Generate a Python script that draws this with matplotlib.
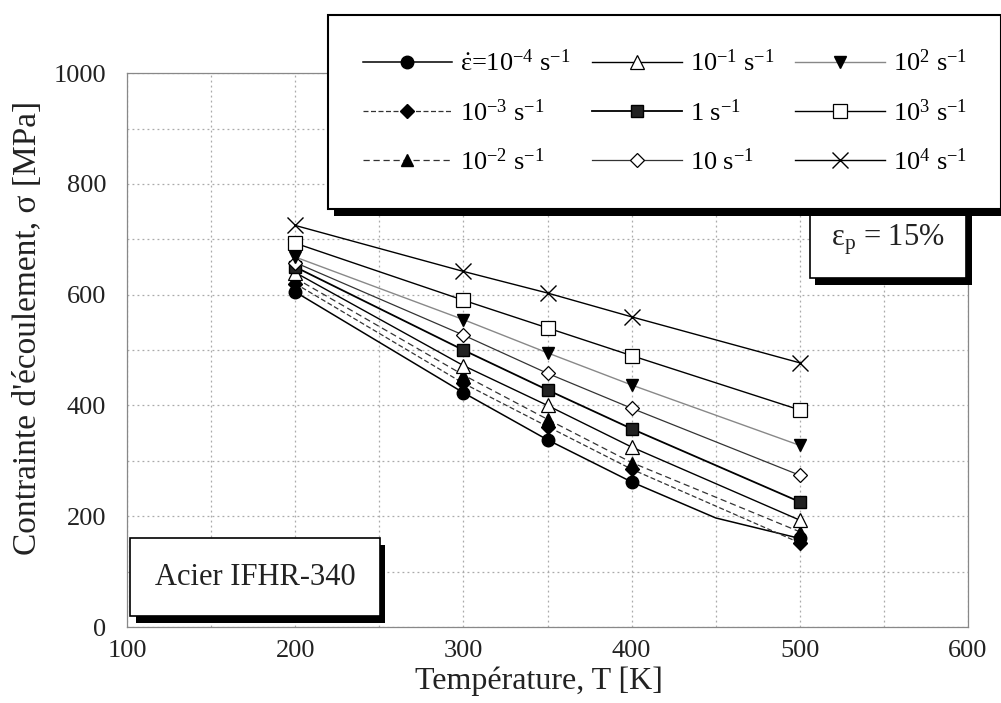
import matplotlib
matplotlib.use("Agg")
import matplotlib.pyplot as plt
from matplotlib import patheffects as pe
from matplotlib.ticker import MultipleLocator

plt.rcParams['font.family'] = ['Liberation Serif', 'DejaVu Serif']
plt.rcParams['mathtext.fontset'] = 'custom'
plt.rcParams['mathtext.rm'] = 'Liberation Serif'
plt.rcParams['mathtext.it'] = 'Liberation Serif:italic'
plt.rcParams['mathtext.bf'] = 'Liberation Serif:bold'

# Temperatures [K]
T = [200, 300, 350, 400, 500]
T_slow = [200, 300, 350, 400, 450, 500]   # 1e-4 curve has an extra bend near 450 K

# Flow stress [MPa] for each strain rate
s_1em4 = [605, 423, 338, 262, 197, 160]
s_1em3 = [620, 440, 362, 285, 152]
s_1em2 = [630, 455, 375, 297, 172]
s_1em1 = [640, 472, 400, 325, 193]
s_1 = [650, 500, 428, 358, 226]
s_10 = [658, 527, 458, 395, 274]
s_1e2 = [668, 555, 495, 437, 328]
s_1e3 = [693, 590, 540, 490, 392]
s_1e4 = [725, 642, 603, 560, 477]

labels = [r'$\mathrm{\dot{\varepsilon}}$=10$^{-4}$ s$^{-1}$',
          r'10$^{-3}$ s$^{-1}$', r'10$^{-2}$ s$^{-1}$',
          r'10$^{-1}$ s$^{-1}$', r'1 s$^{-1}$', r'10 s$^{-1}$',
          r'10$^{2}$ s$^{-1}$', r'10$^{3}$ s$^{-1}$', r'10$^{4}$ s$^{-1}$']

fig = plt.figure(figsize=(10.01, 7.03), dpi=100)
ax = fig.add_axes([0.127, 0.108, 0.840, 0.788])

ms = 9
ax.plot(T_slow, s_1em4, '-', color='k', lw=1.1, marker='o', ms=ms, mfc='k',
        markevery=[0, 1, 2, 3, 5], label=labels[0])
ax.plot(T, s_1em3, '--', color='#333333', lw=0.9, dashes=(4, 2), marker='D', ms=7,
        mfc='k', mec='k', label=labels[1])
ax.plot(T, s_1em2, '--', color='#333333', lw=0.9, dashes=(5, 3), marker='^', ms=ms,
        mfc='k', mec='k', label=labels[2])
ax.plot(T, s_1em1, '-', color='k', lw=1.0, marker='^', ms=ms + 1, mfc='white',
        mec='k', mew=0.9, label=labels[3])
ax.plot(T, s_1, '-', color='k', lw=1.3, marker='s', ms=ms, mfc='#222222', mec='k',
        label=labels[4])
ax.plot(T, s_10, '-', color='#333333', lw=0.9, marker='D', ms=7.5, mfc='white',
        mec='k', mew=0.9, label=labels[5])
ax.plot(T, s_1e2, '-', color='#888888', lw=1.0, marker='v', ms=ms, mfc='k', mec='k',
        label=labels[6])
ax.plot(T, s_1e3, '-', color='k', lw=1.0, marker='s', ms=ms + 1, mfc='white',
        mec='k', mew=0.9, label=labels[7])
ax.plot(T, s_1e4, '-', color='k', lw=1.0, marker='x', ms=ms + 2, mec='k', mew=1.0,
        label=labels[8])

ax.set_xlim(100, 600)
ax.set_ylim(0, 1000)
ax.xaxis.set_major_locator(MultipleLocator(100))
ax.xaxis.set_minor_locator(MultipleLocator(50))
ax.yaxis.set_major_locator(MultipleLocator(200))
ax.yaxis.set_minor_locator(MultipleLocator(100))
ax.grid(which='both', linestyle=(0, (1.5, 2.5)), color='#aaaaaa', lw=0.9)
ax.tick_params(which='both', length=0, labelsize=19, colors='#222222')
ax.tick_params(axis='y', pad=15)
ax.tick_params(axis='x', pad=9)
for sp in ax.spines.values():
    sp.set_color('#888888')
    sp.set_linewidth(0.9)

ax.set_xlabel('Température, T [K]', fontsize=23, color='#222222')
ax.xaxis.set_label_coords(0.49, -0.072)
ax.set_ylabel("Contrainte d'écoulement, σ [MPa]", fontsize=24, color='#222222')
ax.yaxis.set_label_coords(-0.100, 0.54)

shadow = [pe.SimplePatchShadow(offset=(4, -5), shadow_rgbFace='k', alpha=1),
          pe.Normal()]

leg = fig.legend(loc='upper left', bbox_to_anchor=(0.328, 0.978),
                 ncol=3, fontsize=19, frameon=True, fancybox=False, framealpha=1,
                 edgecolor='k', handlelength=3.4, handletextpad=0.3,
                 labelspacing=0.86, borderpad=1.3, columnspacing=0.8,
                 borderaxespad=0)
leg.get_frame().set_linewidth(1.5)
leg.get_frame().set_path_effects(shadow)

t1 = ax.text(0.152, 0.09, 'Acier IFHR-340', transform=ax.transAxes, fontsize=22,
             ha='center', va='center', color='#222222',
             bbox=dict(boxstyle='square,pad=0.8', fc='white', ec='k', lw=1.2))
t1.get_bbox_patch().set_path_effects(shadow)

t2 = ax.text(0.905, 0.70, r'$\mathrm{\varepsilon_p}$ = 15%', transform=ax.transAxes,
             fontsize=22, ha='center', va='center', color='#222222',
             bbox=dict(boxstyle='square,pad=0.7', fc='white', ec='k', lw=1.2))
t2.get_bbox_patch().set_path_effects(shadow)

fig.savefig('out.png', dpi=100)
